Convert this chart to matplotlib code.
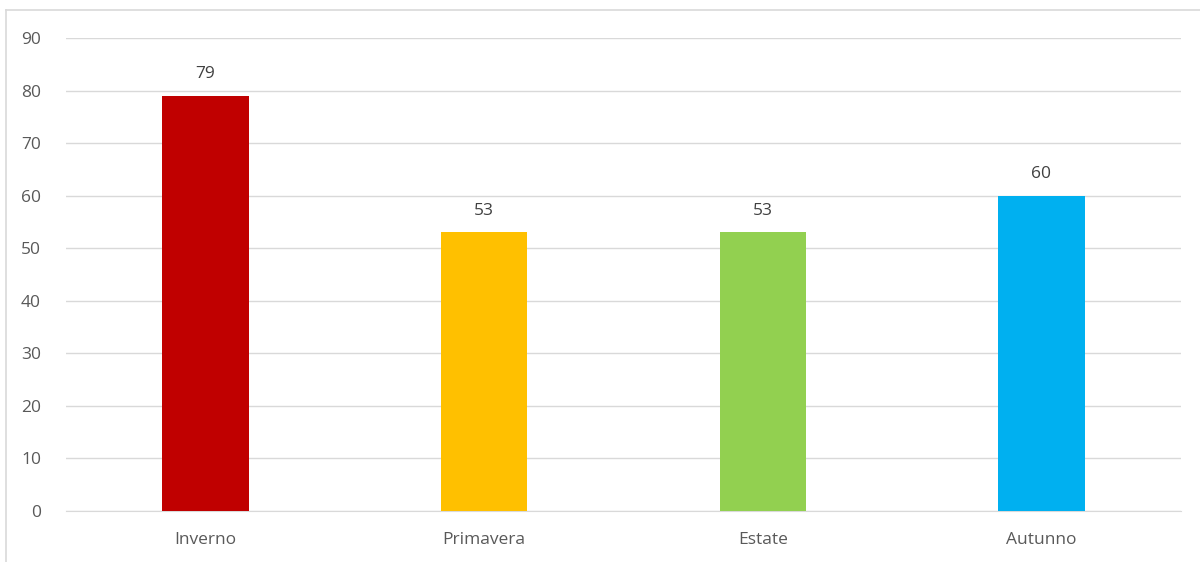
import matplotlib
matplotlib.use("Agg")
import matplotlib.pyplot as plt
from matplotlib.lines import Line2D

stagioni = ["Inverno", "Primavera", "Estate", "Autunno"]
valori = [79, 53, 53, 60]
colori = ["#c00000", "#ffc000", "#92d050", "#00b0f0"]

plt.rcParams["font.family"] = ["Open Sans", "DejaVu Sans"]

fig = plt.figure(figsize=(12, 5.62), dpi=100)
ax = fig.add_axes([0.055, 0.0907, 0.929, 0.8417])

x = range(len(stagioni))
bars = ax.bar(x, valori, width=0.31, color=colori, zorder=3)
for b, v in zip(bars, valori):
    ax.annotate(str(v), (b.get_x() + b.get_width() / 2, v), xytext=(0, 10),
                textcoords="offset points", ha="center", va="bottom",
                fontsize=12.5, color="#404040")

ax.set_xlim(-0.5, 3.5)
ax.set_ylim(0, 90)
ax.set_yticks(range(0, 91, 10))
ax.set_xticks(list(x))
ax.set_xticklabels(stagioni)
ax.grid(axis="y", color="#d9d9d9", linewidth=1, zorder=0)
for s in ["top", "right", "left"]:
    ax.spines[s].set_visible(False)
ax.spines["bottom"].set_color("#d9d9d9")
ax.tick_params(axis="both", length=0, labelsize=12.5, colors="#595959")
ax.tick_params(axis="y", pad=18)
ax.tick_params(axis="x", pad=15)

# chart border (left and top edges visible)
fig.add_artist(Line2D([6 / 1200, 6 / 1200], [0, 1 - 10 / 562], color="#d9d9d9", linewidth=1.2))
fig.add_artist(Line2D([6 / 1200, 1], [1 - 10 / 562, 1 - 10 / 562], color="#d9d9d9", linewidth=1.2))

fig.savefig("out.png", dpi=100)
